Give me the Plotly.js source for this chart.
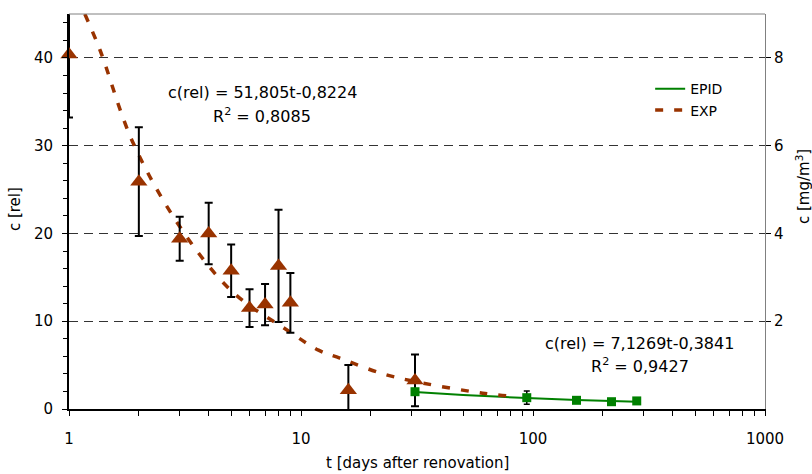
<!DOCTYPE html>
<html>
<head>
<meta charset="utf-8">
<script src="https://cdn.plot.ly/plotly-3.0.1.min.js"></script>
<style>html,body{margin:0;padding:0;background:#fff;}#chart{width:812px;height:474px;}</style>
</head>
<body>
<div id="chart"></div>
<script>
// Measured values (EXP: triangles with error bars)
const tExp = [1, 2, 3, 4, 5, 6, 7, 8, 9, 16, 31];
const cExp = [40.4, 25.9, 19.4, 20.0, 15.75, 11.5, 11.9, 16.3, 12.1, 2.15, 3.25];
const errExp = [7.2, 6.2, 2.5, 3.5, 3.0, 2.15, 2.35, 6.4, 3.4, 2.85, 2.95];

// Measured values (EPID: squares with error bars)
const tEpid = [31, 94, 154, 218, 280];
const cEpid = [1.97, 1.29, 0.99, 0.83, 0.92];
const errEpid = [0, 0.75, 0.3, 0.2, 0];

// Trend lines
const tFitExp = [1.17, 1.36, 1.89, 3.07, 5.09, 8.7, 11.9, 14.7, 22.6, 33.6, 60.7, 80];
const cFitExp = [45, 40.9, 30.3, 20.4, 13.3, 9.0, 6.7, 5.8, 4.0, 2.95, 1.8, 1.45];
const tFitEpid = [31, 50, 94, 154, 218, 280];
const cFitEpid = [1.93, 1.6, 1.25, 1.03, 0.9, 0.83];

// Axis ticks
const xMajorTicks = [1, 10, 100, 1000];
const xMinorTicks = [2,3,4,5,6,7,8,9,20,30,40,50,60,70,80,90,200,300,400,500,600,700,800,900];
const y2TickVals = [2, 4, 6, 8];

const FONT = 'DejaVu Sans, Arial, sans-serif';
const BROWN = '#993300';
const GREEN = '#008000';

const traces = [
  {
    x: tFitEpid, y: cFitEpid, type: 'scatter', mode: 'lines', name: 'EPID',
    line: {color: GREEN, width: 2, shape: 'spline'}, hoverinfo: 'skip'
  },
  {
    x: tFitExp, y: cFitExp, type: 'scatter', mode: 'lines', name: 'EXP',
    line: {color: BROWN, width: 3.5, dash: '8px,11px', shape: 'spline'}, hoverinfo: 'skip'
  },
  {
    x: tExp, y: cExp, type: 'scatter', mode: 'markers', showlegend: false, cliponaxis: false,
    marker: {symbol: 'triangle-up', size: 15, color: BROWN},
    error_y: {type: 'data', array: errExp, visible: true, color: '#000', thickness: 2, width: 4}
  },
  {
    x: tEpid, y: cEpid, type: 'scatter', mode: 'markers', showlegend: false, cliponaxis: false,
    marker: {symbol: 'square', size: 9, color: GREEN},
    error_y: {type: 'data', array: errEpid, visible: true, color: '#000', thickness: 1.5, width: 3}
  },
  {
    x: [1], y: [0], yaxis: 'y2', type: 'scatter', mode: 'markers', showlegend: false,
    marker: {opacity: 0}, hoverinfo: 'skip'
  }
];

const layout = {
  width: 812, height: 474,
  margin: {l: 69, r: 47, t: 14, b: 65},
  paper_bgcolor: '#fff', plot_bgcolor: '#fff',
  font: {family: FONT, size: 15, color: '#000'},
  showlegend: true,
  legend: {
    x: 0.835, y: 0.85, xanchor: 'left', yanchor: 'top',
    font: {family: FONT, size: 14, color: '#000'},
    bgcolor: 'rgba(0,0,0,0)', tracegroupgap: 0, traceorder: 'normal'
  },
  xaxis: {
    type: 'log', range: [0, 3],
    tickmode: 'array', tickvals: xMajorTicks, ticktext: xMajorTicks.map(String),
    ticks: 'outside', ticklen: 5, tickwidth: 1, tickcolor: '#000',
    minor: {tickmode: 'array', tickvals: xMinorTicks, ticks: 'outside', ticklen: 5, tickwidth: 1, tickcolor: '#000', showgrid: false},
    ticklabelstandoff: 10,
    showline: true, linecolor: '#000', linewidth: 2,
    showgrid: false, zeroline: false,
    tickfont: {family: FONT, size: 15, color: '#000'}
  },
  yaxis: {
    range: [0, 45], tick0: 0, dtick: 10,
    ticks: 'outside', ticklen: 5, tickwidth: 1, tickcolor: '#000',
    minor: {dtick: 2, ticks: 'outside', ticklen: 4, tickcolor: '#000', showgrid: false},
    ticklabelstandoff: 6,
    showline: true, linecolor: '#000', linewidth: 2,
    showgrid: true, gridcolor: '#333', gridwidth: 1, griddash: '9px,6px',
    zeroline: false,
    tickfont: {family: FONT, size: 15, color: '#000'}
  },
  yaxis2: {
    overlaying: 'y', side: 'right', range: [0, 9],
    tickvals: y2TickVals,
    ticks: 'outside', ticklen: 5, tickwidth: 1, tickcolor: '#000',
    showline: true, linecolor: '#808080', linewidth: 1,
    showgrid: false, zeroline: false,
    tickfont: {family: FONT, size: 15, color: '#000'}
  },
  shapes: [
    {type: 'line', xref: 'paper', yref: 'paper', x0: 0, x1: 1, y0: 1, y1: 1,
     line: {color: '#808080', width: 1}}
  ],
  annotations: [
    {text: 'c(rel) = 51,805t-0,8224', xref: 'paper', yref: 'paper', x: 0.2773, y: 0.8,
     xanchor: 'center', yanchor: 'middle', showarrow: false, font: {family: FONT, size: 16, color: '#000'}},
    {text: 'R<sup>2</sup> = 0,8085', xref: 'paper', yref: 'paper', x: 0.2773, y: 0.7418,
     xanchor: 'center', yanchor: 'middle', showarrow: false, font: {family: FONT, size: 16, color: '#000'}},
    {text: 'c(rel) = 7,1269t-0,3841', xref: 'paper', yref: 'paper', x: 0.8204, y: 0.167,
     xanchor: 'center', yanchor: 'middle', showarrow: false, font: {family: FONT, size: 16, color: '#000'}},
    {text: 'R<sup>2</sup> = 0,9427', xref: 'paper', yref: 'paper', x: 0.8204, y: 0.1089,
     xanchor: 'center', yanchor: 'middle', showarrow: false, font: {family: FONT, size: 16, color: '#000'}},
    {text: 't [days after renovation]', xref: 'paper', yref: 'paper', x: 0.5, y: -0.1367,
     xanchor: 'center', yanchor: 'middle', showarrow: false, font: {family: FONT, size: 15, color: '#000'}},
    {text: 'c [rel]', xref: 'paper', yref: 'paper', x: -0.0776, y: 0.506, textangle: -90,
     xanchor: 'center', yanchor: 'middle', showarrow: false, font: {family: FONT, size: 15, color: '#000'}},
    {text: 'c [mg/m<sup>3</sup>]', xref: 'paper', yref: 'paper', x: 1.0546, y: 0.562, textangle: -90,
     xanchor: 'center', yanchor: 'middle', showarrow: false, font: {family: FONT, size: 15, color: '#000'}}
  ]
};

Plotly.newPlot('chart', traces, layout, {staticPlot: true, displayModeBar: false});
</script>
</body>
</html>
